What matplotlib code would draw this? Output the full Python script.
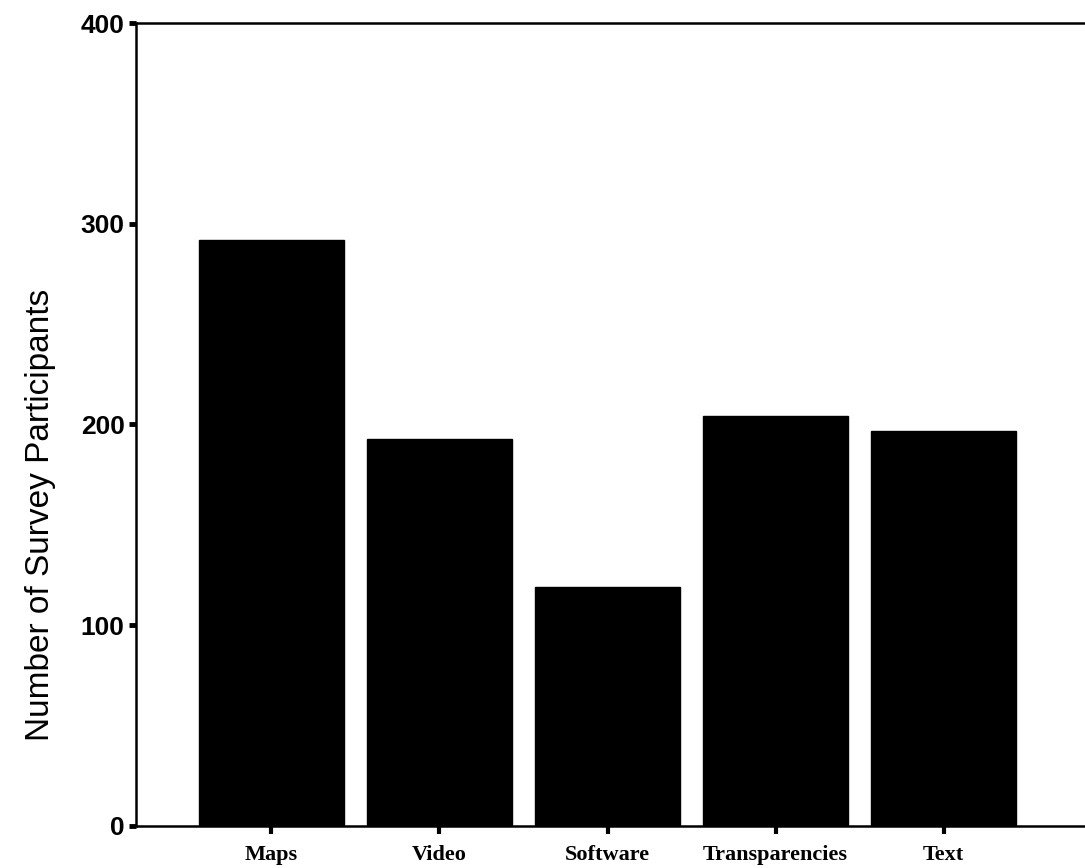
import matplotlib.pyplot as plt

# values
categories = ['Maps', 'Video', 'Software', 'Transparencies', 'Text']
participants = [292, 193, 119, 204, 197]
y_ticks = [0, 100, 200, 300, 400]

fig = plt.figure(figsize=(10.85, 8.68), dpi=100)
ax = fig.add_axes([0.125, 0.0484, 0.875, 0.9251])

x = list(range(len(categories)))
ax.bar(x, participants, width=0.86, color='black', edgecolor='black')

ax.set_xlim(-0.807, 4.84)
ax.set_ylim(0, 400)

ax.set_yticks(y_ticks)
ax.set_yticklabels([str(v) for v in y_ticks], fontsize=19, family='Liberation Sans', fontweight='bold')
ax.set_xticks(x)
ax.set_xticklabels(categories, fontsize=16, family='Liberation Serif', fontweight='bold')

ax.tick_params(axis='y', direction='out', length=5, width=3.5, pad=3)
ax.tick_params(axis='x', direction='out', length=6, width=3, pad=8)

ax.spines['right'].set_visible(False)
for side in ['left', 'bottom', 'top']:
    ax.spines[side].set_linewidth(1.8)

ax.set_ylabel('Number of Survey Participants', fontsize=24, family='Liberation Sans')
ax.yaxis.set_label_coords(-0.084, 0.388)

fig.savefig('out.png', dpi=100)
